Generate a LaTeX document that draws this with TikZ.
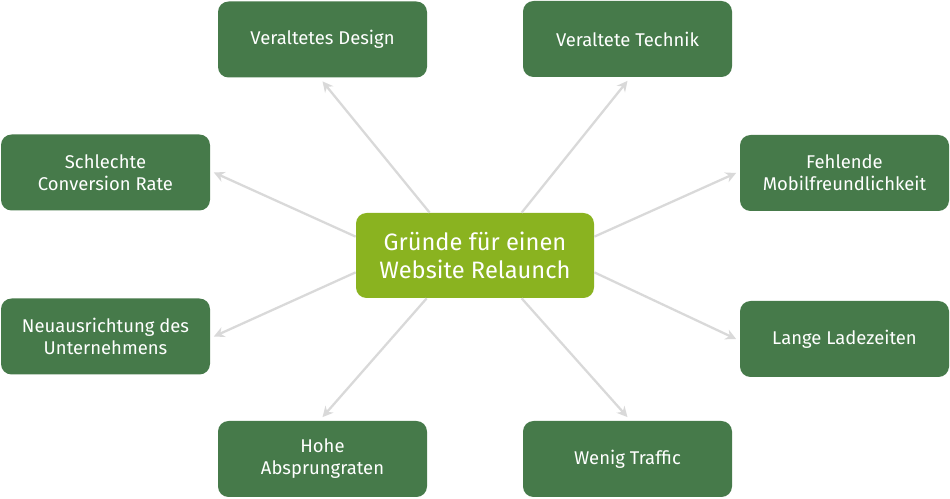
\documentclass[tikz,border=0pt]{standalone}
\usepackage{fontspec}
\setmainfont{Fira Sans}
\usetikzlibrary{arrows.meta}
\definecolor{dg}{HTML}{467A4A}
\definecolor{lg}{HTML}{8AB320}
\definecolor{ar}{HTML}{D9D9D9}
\tikzset{
  box/.style={fill=dg,rounded corners=6pt,text=white,align=center,font=\fontsize{10.5}{12.5}\selectfont,minimum width=209*0.02cm,minimum height=76*0.02cm,inner sep=0pt},
  conn/.style={draw=ar,line width=1.3pt,-{Stealth[length=6pt,width=6pt]}}
}
\begin{document}
\begin{tikzpicture}[x=0.02cm,y=-0.02cm]
\useasboundingbox (0,0) rectangle (950,499);
\node[fill=lg,rounded corners=6pt,text=white,align=center,font=\fontsize{13.5}{16}\selectfont,minimum width=238*0.02cm,minimum height=85*0.02cm,inner sep=0pt] (c) at (475,255.5) {Gründe für einen\\Website Relaunch};
\node[box] (d) at (322.5,39.5) {Veraltetes Design};
\node[box] (t) at (627.5,39) {Veraltete Technik};
\node[box] (s) at (105.5,172.5) {Schlechte\\Conversion Rate};
\node[box] (m) at (844.5,173) {Fehlende\\Mobilfreundlichkeit};
\node[box] (n) at (105.5,336.5) {Neuausrichtung des\\Unternehmens};
\node[box] (l) at (844.5,339) {Lange Ladezeiten};
\node[box] (h) at (322.5,459) {Hohe\\Absprungraten};
\node[box] (w) at (627.5,459) {Wenig Traffic};
\draw[conn] ([xshift=74*0.02cm]c.north west) -- ([yshift=-2pt]d.south);
\draw[conn] ([xshift=166*0.02cm]c.north west) -- ([yshift=-2pt]t.south);
\draw[conn] ([yshift=-24*0.02cm]c.north west) -- ([xshift=2pt]s.east);
\draw[conn] ([yshift=-24*0.02cm]c.north east) -- ([xshift=-2pt]m.west);
\draw[conn] ([yshift=26*0.02cm]c.south west) -- ([xshift=2pt]n.east);
\draw[conn] ([yshift=26*0.02cm]c.south east) -- ([xshift=-2pt]l.west);
\draw[conn] ([xshift=71*0.02cm]c.south west) -- ([yshift=2pt]h.north);
\draw[conn] ([xshift=166*0.02cm]c.south west) -- ([yshift=2pt]w.north);
\end{tikzpicture}
\end{document}
